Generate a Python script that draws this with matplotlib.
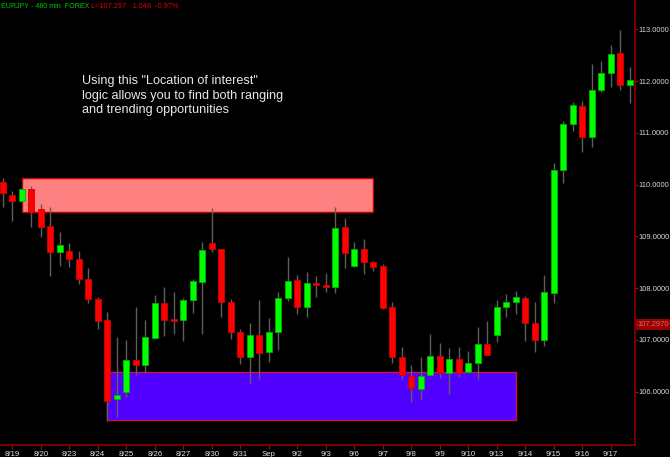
"""
EURJPY 480 min - wykres świecowy z dwiema strefami "location of interest".
"""

import matplotlib
matplotlib.use("Agg")
import matplotlib.pyplot as plt
from matplotlib.patches import Rectangle
from matplotlib.transforms import blended_transform_factory

# dane świec (kolejne sesje 8h)
opens = [110.045, 109.799, 109.683, 109.915, 109.523, 109.206, 108.704, 108.712, 108.563, 108.183,
         107.796, 107.385, 105.849, 105.988, 106.612, 106.516, 107.031, 107.713, 107.404, 107.391,
         107.765, 108.125, 108.866, 108.756, 107.733, 107.153, 106.670, 107.095, 106.761, 107.153,
         107.810, 108.157, 107.636, 108.094, 108.061, 108.028, 109.181, 108.434, 108.756, 108.505,
         108.428, 107.630, 106.670, 106.297, 106.058, 106.322, 106.689, 106.355, 106.631, 106.380,
         106.554, 106.921, 107.089, 107.630, 107.733, 107.816, 107.327, 106.998, 107.912, 110.288,
         111.165, 111.518, 110.925, 111.828, 112.162, 112.533, 111.918]
highs = [110.122, 109.877, 109.935, 109.973, 109.626, 109.573, 109.079, 108.866, 108.718, 108.395,
         107.829, 107.534, 107.062, 106.998, 107.642, 107.385, 107.862, 108.016, 107.926, 107.815,
         108.183, 108.891, 109.548, 108.756, 107.785, 107.205, 107.333, 107.771, 107.423, 107.931,
         108.596, 108.248, 108.312, 108.235, 108.287, 109.562, 109.349, 108.897, 108.949, 108.524,
         108.466, 107.738, 106.857, 106.510, 106.664, 107.114, 106.946, 106.838, 106.857, 106.792,
         107.244, 107.371, 107.771, 107.893, 107.939, 107.854, 107.733, 108.248, 110.423, 111.229,
         111.590, 111.615, 112.324, 112.382, 112.691, 112.977, 112.276]
lows = [109.573, 109.303, 109.664, 109.187, 108.994, 108.235, 108.428, 108.415, 108.080, 107.719,
        107.205, 105.424, 105.505, 105.903, 106.322, 106.367, 107.012, 107.076, 107.114, 106.985,
        107.526, 107.114, 108.704, 107.437, 107.024, 106.535, 106.174, 106.245, 106.579, 106.805,
        107.758, 107.501, 107.443, 107.835, 107.931, 107.912, 108.395, 108.408, 108.268, 108.331,
        107.603, 106.548, 106.251, 105.807, 105.859, 106.300, 106.270, 105.955, 106.290, 106.370,
        106.251, 106.700, 106.954, 107.449, 107.506, 106.985, 106.761, 106.888, 107.719, 110.025,
        111.041, 110.636, 110.732, 111.795, 111.891, 111.828, 111.582]
closes = [109.832, 109.683, 109.915, 109.477, 109.187, 108.704, 108.828, 108.563, 108.177, 107.785,
          107.371, 105.826, 105.930, 106.612, 106.516, 107.056, 107.713, 107.379, 107.371, 107.777,
          108.132, 108.737, 108.762, 107.733, 107.153, 106.670, 107.095, 106.747, 107.159, 107.804,
          108.144, 107.636, 108.094, 108.067, 108.028, 109.162, 108.685, 108.756, 108.505, 108.414,
          107.626, 106.670, 106.322, 106.071, 106.309, 106.689, 106.355, 106.631, 106.361, 106.554,
          106.921, 106.709, 107.630, 107.733, 107.829, 107.327, 107.004, 107.920, 110.288, 111.177,
          111.544, 110.925, 111.833, 112.162, 112.529, 111.924, 112.030]

# etykiety dni (co 3 świece, od świecy nr 1)
day_labels = ["8/19", "8/20", "8/23", "8/24", "8/25", "8/26", "8/27", "8/30", "8/31", "Sep", "9/2",
              "9/3", "9/6", "9/7", "9/8", "9/9", "9/10", "9/13", "9/14", "9/15", "9/16", "9/17"]
day_ticks = [1 + 3 * k for k in range(len(day_labels))]

price_ticks = [106, 107, 108, 109, 110, 111, 112, 113]
last_price = 107.297

# strefy: (pierwsza świeca, ostatnia świeca, dół, góra)
resistance_zone = (2, 39, 109.48, 110.12)
support_zone = (11, 54, 105.447, 106.375)

note = 'Using this "Location of interest"\nlogic allows you to find both ranging\nand trending opportunities'

plt.rcParams['font.family'] = ['Liberation Sans', 'DejaVu Sans']

fig = plt.figure(figsize=(6.7, 4.57), dpi=100, facecolor='black')
ax = fig.add_axes([0, 12 / 457, 635 / 670, 445 / 457])
ax.set_facecolor('black')

# strefy w tle
r0, r1, rb, rt = resistance_zone
ax.add_patch(Rectangle((r0, rb), r1 - r0, rt - rb, facecolor='#FF8080', edgecolor='#C00000',
                       linewidth=1, zorder=1))
s0, s1, sb, st = support_zone
ax.add_patch(Rectangle((s0, sb), s1 - s0, st - sb, facecolor='#5000FF', edgecolor='#D0104A',
                       linewidth=1, zorder=1))

# świece
idx = list(range(len(opens)))
ax.vlines(idx, lows, highs, color='#5e5e5e', linewidth=1, zorder=2)
bottoms = [min(o, c) for o, c in zip(opens, closes)]
heights = [max(abs(c - o), 0.012) for o, c in zip(opens, closes)]
face = ['#00FF00' if c >= o else '#FF0000' for o, c in zip(opens, closes)]
edge = ['#00B000' if c >= o else '#D00000' for o, c in zip(opens, closes)]
ax.bar(idx, heights, bottom=bottoms, width=0.63, color=face, edgecolor=edge, linewidth=0.6, zorder=3)

ax.set_xlim(-0.284, 66.56)
ax.set_ylim(104.97, 113.566)

# osie
for side in ['left', 'top']:
    ax.spines[side].set_visible(False)
for side in ['right', 'bottom']:
    ax.spines[side].set_color('#8B0000')
    ax.spines[side].set_linewidth(1.2)

ax.yaxis.tick_right()
ax.set_yticks(price_ticks)
ax.set_yticklabels(['%.4f' % p for p in price_ticks])
ax.set_xticks(day_ticks)
ax.set_xticklabels(day_labels)
ax.tick_params(axis='y', colors='#C00000', labelcolor='#D8D8D8', labelsize=5.4, length=2.5, pad=0.3)
ax.tick_params(axis='x', colors='#C00000', labelcolor='#E0E0E0', labelsize=5.6, length=3, pad=1)

# znacznik ostatniej ceny
trans = blended_transform_factory(ax.transAxes, ax.transData)
ax.text(1.004, last_price, '%.4f' % last_price, transform=trans, ha='left', va='center',
        fontsize=5.4, color='#D07070', clip_on=False,
        bbox=dict(facecolor='#9A0000', edgecolor='none', pad=1.2))

# nagłówek
fig.text(1 / 670, 1 - 6 / 457, 'EURJPY - 480 min  FOREX', color='#00C800', fontsize=5.1,
         ha='left', va='center')
fig.text(91 / 670, 1 - 6 / 457, 'L=107.297  -1.048  -0.97%', color='#E00000', fontsize=5.3,
         ha='left', va='center')

# opis
ax.text(8.3, 112.11, note, color='#E8E8E8', fontsize=9.1, ha='left', va='top', linespacing=1.28)

fig.savefig('out.png', dpi=100, facecolor='black')
